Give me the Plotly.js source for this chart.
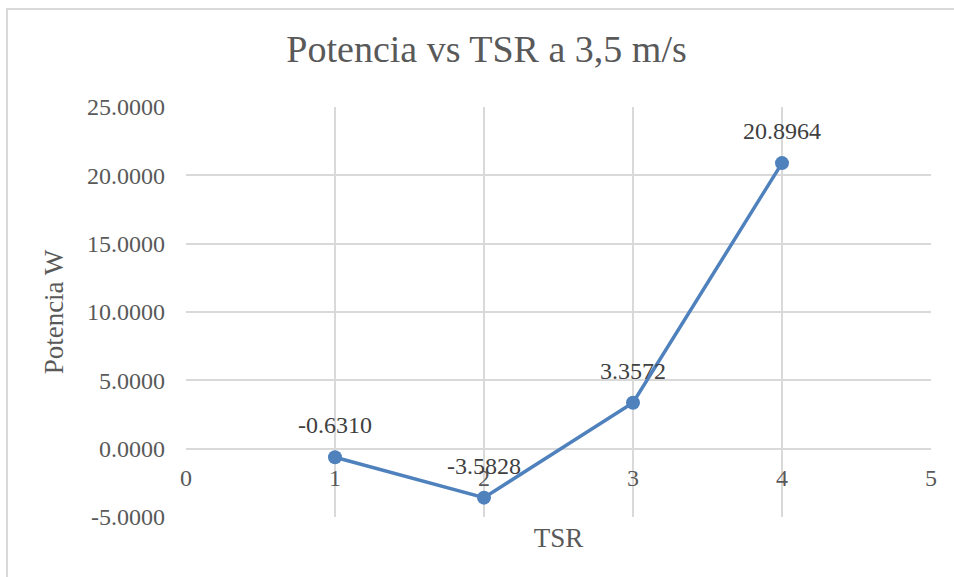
<!DOCTYPE html>
<html>
<head>
<meta charset="utf-8">
<script src="https://cdn.plot.ly/plotly-3.0.1.min.js"></script>
<style>
html,body{margin:0;padding:0;background:#fff;overflow:hidden;width:954px;height:577px;}
#frame{position:absolute;left:6px;top:8px;width:1100px;height:700px;border:2px solid #d9d9d9;}
#chart{position:absolute;left:0;top:0;width:954px;height:577px;}
</style>
</head>
<body>
<div id="frame"></div>
<div id="chart"></div>
<script>
const tsr = [1, 2, 3, 4];
const potencia = [-0.6310, -3.5828, 3.3572, 20.8964];
const xTicks = [0, 1, 2, 3, 4, 5];
const yTicks = [-5, 0, 5, 10, 15, 20, 25];

const FONT = '"Liberation Serif", "Times New Roman", serif';
const LINE = '#4F81BD';
const GRID = '#d9d9d9';

const trace = {
  x: tsr, y: potencia, type: 'scatter', mode: 'lines+markers',
  line: {color: LINE, width: 3.5},
  marker: {color: LINE, size: 14},
  hoverinfo: 'skip', showlegend: false
};

const annotations = tsr.map((x, i) => ({
  x: x, y: potencia[i], xref: 'x', yref: 'y',
  text: potencia[i].toFixed(4), showarrow: false,
  xanchor: 'center', yanchor: 'bottom', yshift: 17,
  font: {family: FONT, size: 24, color: '#404040'}
}));

const layout = {
  width: 954, height: 577,
  margin: {l: 186, r: 23, t: 107, b: 60},
  paper_bgcolor: 'rgba(0,0,0,0)', plot_bgcolor: 'rgba(0,0,0,0)',
  title: {
    text: 'Potencia vs TSR a 3,5 m/s',
    x: 0.51, xanchor: 'center', xref: 'container',
    y: 0.9156, yanchor: 'middle', yref: 'container',
    font: {family: FONT, size: 38, color: '#595959'}
  },
  xaxis: {
    range: [0, 5], tickvals: xTicks, ticktext: xTicks.map(String),
    showgrid: true, gridcolor: GRID, gridwidth: 2,
    zeroline: false, showline: false, ticks: '',
    anchor: 'free', position: 1/6,
    ticklabelstandoff: 12,
    tickfont: {family: FONT, size: 24, color: '#595959'},
    title: {text: 'TSR', standoff: 38, font: {family: FONT, size: 27, color: '#595959'}},
    fixedrange: true
  },
  yaxis: {
    range: [-5, 25], tickvals: yTicks, ticktext: yTicks.map(v => v.toFixed(4)),
    showgrid: true, gridcolor: GRID, gridwidth: 2,
    zeroline: true, zerolinecolor: GRID, zerolinewidth: 2,
    showline: false, ticks: '',
    ticklabelstandoff: 20,
    tickfont: {family: FONT, size: 24, color: '#595959'},
    title: {text: 'Potencia W', standoff: 15, font: {family: FONT, size: 27, color: '#595959'}},
    fixedrange: true
  },
  annotations: annotations
};

Plotly.newPlot('chart', [trace], layout, {displayModeBar: false, staticPlot: true});
</script>
</body>
</html>
